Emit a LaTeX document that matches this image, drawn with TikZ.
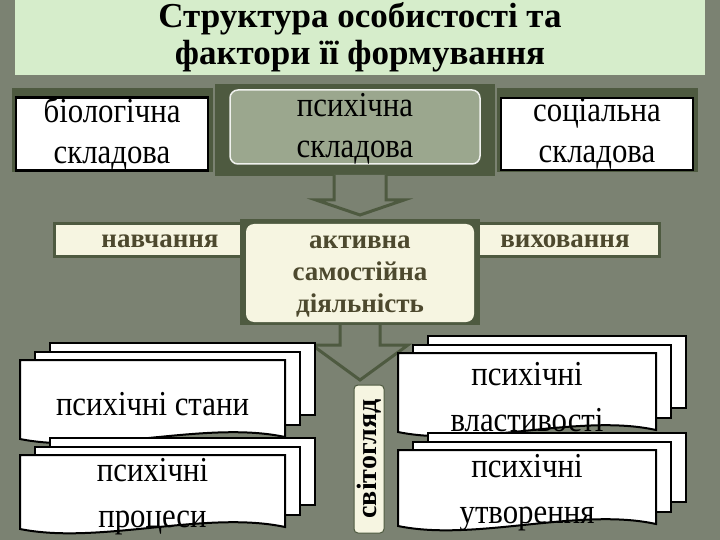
\documentclass[tikz,border=0pt]{standalone}
\usepackage{fontspec}
\setmainfont{Liberation Serif}
\newfontfamily\narrowf[FakeStretch=0.88]{Liberation Serif}
\begin{document}
\begin{tikzpicture}[x=1pt,y=-1pt,
  wbox/.style={draw=black,line width=2.2pt,fill=white},
  sheet/.style={draw=black,line width=2pt,fill=white},
  big/.style={font=\narrowf\fontsize{35}{41}\selectfont,align=center,text=black,inner sep=0pt},
  bold/.style={font=\bfseries\fontsize{27}{32}\selectfont,text=olive!40!black,align=center,inner sep=0pt},
  frame/.style={fill=green!20!black!70,draw=none}]
\definecolor{bg}{HTML}{7B8272}
\definecolor{titlebg}{HTML}{D6EDCB}
\definecolor{cream}{HTML}{F6F5E1}
\definecolor{midg}{HTML}{9BA78E}
\definecolor{dg}{HTML}{4E5A40}
\useasboundingbox (0,0) rectangle (720,540);
\fill[bg] (0,0) rectangle (720,540);
\node[fill=titlebg,minimum width=690,minimum height=75,anchor=north] (title) at (360,0) {};
\node[font=\bfseries\fontsize{35}{37}\selectfont,align=center,inner sep=0pt] (tt) at (360,37) {Структура особистості та\\фактори її формування};
% top row
\fill[dg] (12,88) rectangle (213,172);
\node[wbox,minimum width=192,minimum height=72,big] (bio) at (112,134) {біологічна\\складова};
\fill[dg] (497,88) rectangle (698,172);
\node[wbox,minimum width=192,minimum height=72,big] (soc) at (597,134) {соціальна\\складова};
\node[fill=dg,minimum width=280,minimum height=92] (mframe) at (355,130) {};
\node[fill=midg,draw=white!85!midg,line width=1.5pt,rounded corners=8pt,minimum width=250,minimum height=74] (psy) at (355,127) {};
\node[big] (psyt) at (355,129) {психічна\\складова};
% arrow 1
\draw[dg,line width=3pt,fill=bg] (334,175) -- (334,200) -- (316,200) -- (360,215) -- (404,200) -- (386,200) -- (386,175);
\coordinate (a1) at (360,215);
% band
\node[fill=cream,draw=dg,line width=3pt,minimum width=605,minimum height=32] (band) at (357,240) {};
\node[bold] (nav) at (160,241) {навчання};
\node[bold] (vyh) at (565,241) {виховання};
\node[fill=dg,minimum width=240,minimum height=106] (cframe) at (360,272) {};
\node[fill=cream,rounded corners=8pt,minimum width=228,minimum height=98] (act) at (360,273) {};
\node[bold] (actt) at (360,277) {активна\\самостійна\\діяльність};
% arrow 2
\draw[dg,line width=3pt,fill=bg] (340,325) -- (340,345) -- (312,345) -- (360,380) -- (408,345) -- (380,345) -- (380,325);
\node[fill=cream,draw=dg,line width=1pt,rounded corners=4pt,minimum width=148,minimum height=30,rotate=90,inner sep=0pt,font=\bfseries\fontsize{28}{30}\selectfont] (svit) at (369,459) {світогляд};
% documents
\newcommand{\docstack}[6]{%
 \draw[sheet] (#1+30,#2-17) rectangle (#1+#3+30,#2+#4-30);
 \draw[sheet] (#1+15,#2-8) rectangle (#1+#3+15,#2+#4-20);
 \draw[sheet] (#1,#2) -- (#1+#3,#2) -- (#1+#3,#2+#4-8) .. controls (#1+0.7*#3,#2+#4-25) and (#1+0.3*#3,#2+#4+10) .. (#1,#2+#4-6) -- cycle;
 \node[big,font=\narrowf\fontsize{35}{46}\selectfont] (#6) at (#1+#3/2,#2+#4/2+2) {#5};}
\docstack{20}{360}{265}{85}{психічні стани}{stany}
\docstack{20}{455}{265}{80}{психічні\\процеси}{procesy}
\docstack{398}{353}{258}{85}{психічні\\властивості}{vlast}
\docstack{398}{450}{258}{82}{психічні\\утворення}{utvor}
\end{tikzpicture}
\end{document}
